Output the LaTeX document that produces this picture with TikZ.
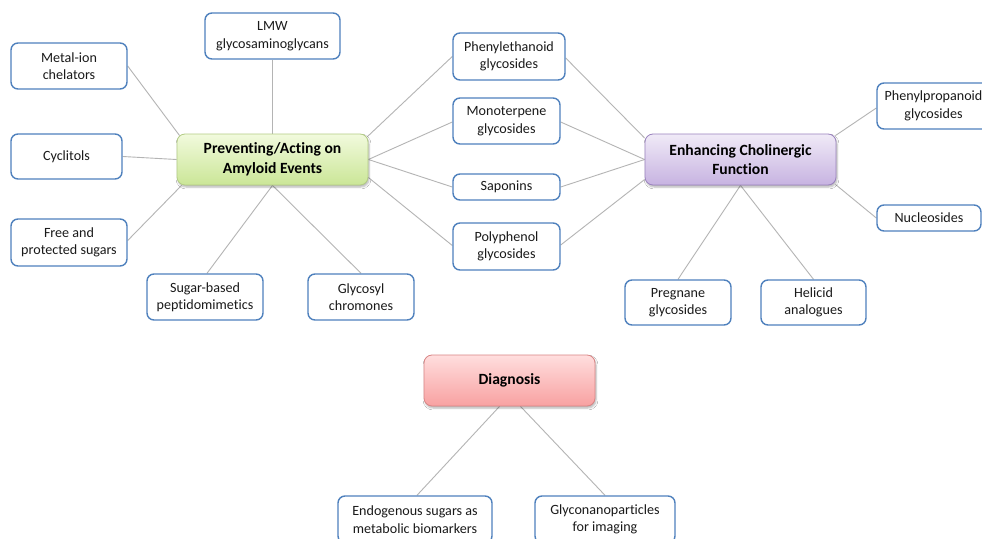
\documentclass[tikz,border=0pt]{standalone}
\usepackage{fontspec}
\setmainfont{Carlito}[Ligatures=NoCommon]
\usetikzlibrary{calc,backgrounds,shadows.blur}

\definecolor{leafblue}{HTML}{4F81BD}
\definecolor{connGray}{HTML}{B4B4B4}
\definecolor{txt}{HTML}{1A1A1A}
\definecolor{preBorder}{HTML}{B3CC85}
\definecolor{preTop}{HTML}{F1FADD}
\definecolor{preBot}{HTML}{CBE697}
\definecolor{enhBorder}{HTML}{9A82BE}
\definecolor{enhTop}{HTML}{F0EAF7}
\definecolor{enhBot}{HTML}{C7B3E1}
\definecolor{diagBorder}{HTML}{D98585}
\definecolor{diagTop}{HTML}{FFDEDE}
\definecolor{diagBot}{HTML}{F8A1A1}

\tikzset{
  leaf/.style={draw=leafblue, line width=1.4pt, rounded corners=7pt, fill=white,
    align=center, inner sep=0pt, text=txt,
    font=\fontsize{14.1}{17.5}\selectfont},
  hub/.style={rounded corners=8pt, line width=0.8pt, align=center, inner sep=0pt,
    minimum width=191pt, minimum height=51pt, text=black,
    font=\bfseries\fontsize{15.6}{19.5}\selectfont,
    blur shadow={shadow xshift=1pt, shadow yshift=-2pt, shadow opacity=30, shadow blur steps=5}},
  conn/.style={draw=connGray, line width=0.9pt},
}

\begin{document}
\begin{tikzpicture}[x=1pt, y=-1pt]
  \useasboundingbox (0,0) rectangle (982,538);
  \clip (0,0) rectangle (982,538);

  % hubs
  \node[hub, draw=preBorder, top color=preTop, bottom color=preBot] (pre) at (272.5,159.5) {Preventing/Acting on\\Amyloid Events};
  \node[hub, draw=enhBorder, top color=enhTop, bottom color=enhBot] (enh) at (740.5,159.5) {Enhancing Cholinergic\\Function};
  \node[hub, minimum width=171pt, draw=diagBorder, top color=diagTop, bottom color=diagBot] (diag) at (509.5,380.5) {Diagnosis};

  % leaves around the amyloid hub
  \node[leaf, minimum width=135pt, minimum height=46pt] (lmw)   at (272.5,36)  {LMW\\glycosaminoglycans};
  \node[leaf, minimum width=116pt, minimum height=46pt] (metal) at (69,66)     {Metal-ion\\chelators};
  \node[leaf, minimum width=111pt, minimum height=45pt] (cyc)   at (66.5,156.5) {Cyclitols};
  \node[leaf, minimum width=116pt, minimum height=47pt] (free)  at (69,242.5)  {Free and\\protected sugars};
  \node[leaf, minimum width=116pt, minimum height=46pt] (sugar) at (205,297)   {Sugar-based\\peptidomimetics};
  \node[leaf, minimum width=106pt, minimum height=46pt] (glyc)  at (361,297)   {Glycosyl\\chromones};

  % leaves shared by both hubs
  \node[leaf, minimum width=112pt, minimum height=47pt] (phe)  at (509,56.5)   {Phenylethanoid\\glycosides};
  \node[leaf, minimum width=107pt, minimum height=46pt] (mono) at (506.5,121)  {Monoterpene\\glycosides};
  \node[leaf, minimum width=107pt, minimum height=26pt] (sap)  at (506.5,187)  {Saponins};
  \node[leaf, minimum width=107pt, minimum height=47pt] (poly) at (506.5,246.5) {Polyphenol\\glycosides};

  % leaves around the cholinergic hub
  \node[leaf, minimum width=113pt, minimum height=46pt] (ppg)  at (933.5,106)  {Phenylpropanoid\\glycosides};
  \node[leaf, minimum width=104pt, minimum height=26pt] (nuc)  at (929,218)    {Nucleosides};
  \node[leaf, minimum width=106pt, minimum height=45pt] (preg) at (678,302.5)  {Pregnane\\glycosides};
  \node[leaf, minimum width=105pt, minimum height=45pt] (hel)  at (813.5,302.5) {Helicid\\analogues};

  % diagnosis leaves
  \node[leaf, minimum width=154pt, minimum height=47pt] (endo) at (415,519.5)  {Endogenous sugars as\\metabolic biomarkers};
  \node[leaf, minimum width=140pt, minimum height=47pt] (glnp) at (605,519.5)  {Glyconanoparticles\\for imaging};

  \begin{scope}[on background layer]
    \fill[white] (0,0) rectangle (982,538);
    % amyloid hub connectors
    \draw[conn] (metal.east) -- ($(pre.north west)+(3,2)$);
    \draw[conn] (cyc.east) -- (pre.west);
    \draw[conn] ($(free.east)+(0,-2)$) -- ($(pre.south west)+(5,0)$);
    \draw[conn] (lmw.south) -- (pre.north);
    \draw[conn] ($(sugar.north)+(2,0)$) -- (pre.south);
    \draw[conn] (glyc.north) -- (pre.south);
    \draw[conn] (phe.west) -- ($(pre.north east)+(-1,3)$);
    \draw[conn] ($(mono.west)+(0,1)$) -- (pre.east);
    \draw[conn] (sap.west) -- (pre.east);
    \draw[conn] ($(poly.west)+(0,-1)$) -- ($(pre.east)+(0,18)$);
    % cholinergic hub connectors
    \draw[conn] ($(phe.east)+(0,1.5)$) -- ($(enh.west)+(0,-21.5)$);
    \draw[conn] ($(mono.east)+(0,1)$) -- (enh.west);
    \draw[conn] (sap.east) -- (enh.west);
    \draw[conn] ($(poly.east)+(0,-1.5)$) -- ($(enh.west)+(0,20)$);
    \draw[conn] ($(ppg.west)+(0,2)$) -- ($(enh.north east)+(-1,2)$);
    \draw[conn] (nuc.west) -- ($(enh.south east)+(-1,-1)$);
    \draw[conn] (preg.north) -- (enh.south);
    \draw[conn] (hel.north) -- (enh.south);
    % diagnosis connectors
    \draw[conn] ($(endo.north)+(2,0)$) -- ($(diag.south)+(-10,0)$);
    \draw[conn] (glnp.north) -- ($(diag.south)+(11,0)$);
  \end{scope}
\end{tikzpicture}
\end{document}
